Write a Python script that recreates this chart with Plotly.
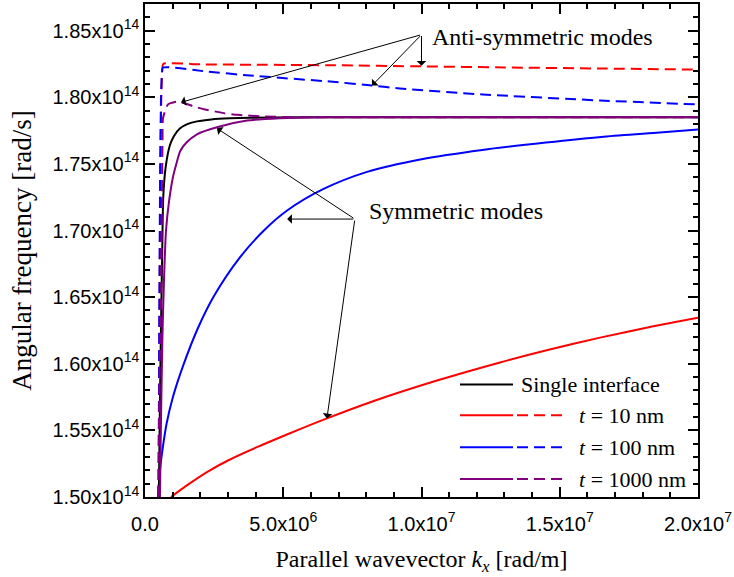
import numpy as np
import plotly.graph_objects as go

# ---- data (kx in 1e6 rad/m, omega in 1e14 rad/s) ----
KX_SCALE = 1e6
W_SCALE = 1e14

kx_single = [0.50, 0.54, 0.58, 0.62, 0.66, 0.75, 0.90, 1.05, 1.27, 1.55, 1.88, 2.4, 3.07, 4.5, 7, 10, 15, 20]
w_single = [1.50, 1.57, 1.63, 1.68, 1.725, 1.748, 1.764, 1.771, 1.7767, 1.7800, 1.7819, 1.7834, 1.7842, 1.7848, 1.785, 1.785, 1.785, 1.785]

kx_t10_sym = [0.94, 1.5, 2.24, 3.0, 4.05, 5.2, 6.58, 8.25, 10.56, 12.84, 14.6, 16.46, 18.3, 20.0]
w_t10_sym = [1.500, 1.5085, 1.5187, 1.5274, 1.5374, 1.5475, 1.5590, 1.5719, 1.5874, 1.6010, 1.6105, 1.6196, 1.6277, 1.6345]

kx_t10_anti = [0.50, 0.53, 0.56, 0.59, 0.62, 0.66, 2.0, 4.0, 6.9, 10, 13, 16.5, 20]
w_t10_anti = [1.50, 1.65, 1.75, 1.80, 1.818, 1.8250, 1.8247, 1.8244, 1.8240, 1.8232, 1.8224, 1.8216, 1.8208]

kx_t100_sym = [0.47, 0.55, 0.65, 0.78, 1.01, 1.37, 1.92, 2.5, 3.44, 4.3, 5.14, 6.44, 8.03, 10.0, 12.2, 14.5, 16.5, 18.5, 20.0]
w_t100_sym = [1.500, 1.522, 1.538, 1.555, 1.575, 1.598, 1.627, 1.651, 1.680, 1.700, 1.715, 1.731, 1.744, 1.7535, 1.7605, 1.7660, 1.7702, 1.7733, 1.7759]

kx_t100_anti = [0.49, 0.52, 0.55, 0.58, 0.61, 0.65, 2.24, 3.80, 6.69, 8.21, 9.22, 12.22, 16.46, 20.0]
w_t100_anti = [1.50, 1.65, 1.75, 1.80, 1.818, 1.8223, 1.8193, 1.8163, 1.8118, 1.8088, 1.8066, 1.8021, 1.7976, 1.7946]

kx_t1000_sym = [0.54, 0.58, 0.63, 0.69, 0.76, 0.87, 1.01, 1.16, 1.27, 1.5, 1.88, 2.6, 3.69, 4.88, 6.5, 10, 15, 20]
w_t1000_sym = [1.50, 1.56, 1.62, 1.665, 1.70, 1.722, 1.740, 1.752, 1.7595, 1.766, 1.7722, 1.7775, 1.7825, 1.7843, 1.785, 1.785, 1.785, 1.785]

kx_t1000_anti = [0.48, 0.53, 0.58, 0.615, 0.633, 0.65, 0.83, 1.19, 1.45, 1.88, 2.17, 2.53, 2.89, 3.36, 4.27, 5.6, 8, 12, 16, 20]
w_t1000_anti = [1.50, 1.60, 1.647, 1.722, 1.767, 1.7842, 1.7946, 1.7968, 1.7953, 1.7924, 1.7909, 1.7894, 1.7879, 1.7868, 1.7857, 1.785, 1.785, 1.785, 1.785, 1.785]

x_tickvals = [0, 5, 10, 15, 20]
x_ticktext = ["0.0", "5.0x10<sup>6</sup>", "1.0x10<sup>7</sup>", "1.5x10<sup>7</sup>", "2.0x10<sup>7</sup>"]
y_tickvals = [1.50, 1.55, 1.60, 1.65, 1.70, 1.75, 1.80, 1.85]
y_ticktext = [f"{v:.2f}x10<sup>14</sup>" for v in y_tickvals]
x_minor = list(range(0, 21))
y_minor = [round(1.50 + 0.01 * i, 2) for i in range(38)]

legend_labels = ["Single interface", "<i>t</i> = 10 nm", "<i>t</i> = 100 nm", "<i>t</i> = 1000 nm"]
legend_colors = ["black", "#FF0000", "#0000FF", "#800080"]

# arrows: (tip kx, tip w, tail kx, tail w)
anti_arrows = [(1.30, 1.7962, 10.0, 1.847), (8.21, 1.8088, 10.0, 1.847), (10.0, 1.8236, 10.0, 1.847)]
sym_arrows = [(2.60, 1.7767, 7.59, 1.7086), (5.14, 1.7086, 7.59, 1.7086), (6.58, 1.559, 7.59, 1.7086)]

DASH = "11px,6px"
LW = 2

fig = go.Figure()

def add(kx, w, color, dash=None, smooth=0.8):
    line = dict(color=color, width=LW, shape="spline", smoothing=smooth)
    if dash:
        line["dash"] = dash
    fig.add_trace(go.Scatter(
        x=np.array(kx) * KX_SCALE, y=np.array(w) * W_SCALE, mode="lines",
        line=line, showlegend=False, hoverinfo="skip"))

add(kx_t10_sym, w_t10_sym, "#FF0000")
add(kx_t100_sym, w_t100_sym, "#0000FF")
add(kx_t10_anti, w_t10_anti, "#FF0000", DASH, 0.5)
add(kx_t100_anti, w_t100_anti, "#0000FF", DASH, 0.5)
add(kx_single, w_single, "black", None, 0.6)
add(kx_t1000_sym, w_t1000_sym, "#800080", None, 0.6)
add(kx_t1000_anti, w_t1000_anti, "#800080", DASH, 0.5)

annotations = []
for tx, ty, ax_, ay_ in anti_arrows + sym_arrows:
    annotations.append(dict(
        x=tx * KX_SCALE, y=ty * W_SCALE, ax=ax_ * KX_SCALE, ay=ay_ * W_SCALE,
        xref="x", yref="y", axref="x", ayref="y", text="", showarrow=True,
        arrowhead=1, arrowsize=1.6, arrowwidth=1, arrowcolor="black"))

serif = "Liberation Serif"
annotations.append(dict(x=10.31 * KX_SCALE, y=1.8455 * W_SCALE, xref="x", yref="y",
                        text="Anti-symmetric modes", showarrow=False, xanchor="left", yanchor="middle",
                        font=dict(family=serif, size=24, color="black")))
annotations.append(dict(x=8.03 * KX_SCALE, y=1.7146 * W_SCALE, xref="x", yref="y",
                        text="Symmetric modes", showarrow=False, xanchor="left", yanchor="middle",
                        font=dict(family=serif, size=24, color="black")))

# custom legend (paper coordinates)
shapes = []
row_y = [0.2283, 0.1657, 0.1010, 0.0364]
for i, (lab, col) in enumerate(zip(legend_labels, legend_colors)):
    yy = row_y[i]
    shapes.append(dict(type="line", xref="paper", yref="paper", x0=0.5696, x1=0.6655, y0=yy, y1=yy,
                       line=dict(color=col, width=LW)))
    if i == 0:
        tx = 0.6763
    else:
        shapes.append(dict(type="line", xref="paper", yref="paper", x0=0.6727, x1=0.7631, y0=yy, y1=yy,
                           line=dict(color=col, width=LW, dash=DASH)))
        tx = 0.781
    annotations.append(dict(x=tx, y=yy, xref="paper", yref="paper", text=lab, showarrow=False,
                            xanchor="left", yanchor="middle",
                            font=dict(family=serif, size=22, color="black")))

axis_common = dict(showgrid=False, zeroline=False, showline=True, linecolor="black", linewidth=1.5,
                   mirror="allticks", ticks="inside", ticklen=10, tickwidth=1.5, tickcolor="black",
                   tickfont=dict(family="Liberation Sans", size=20, color="black"))

fig.update_layout(
    width=734, height=577,
    margin=dict(l=145, r=36, t=2, b=80),
    plot_bgcolor="white", paper_bgcolor="white",
    showlegend=False,
    xaxis=dict(range=[0, 20 * KX_SCALE], tickmode="array",
               tickvals=[v * KX_SCALE for v in x_tickvals], ticktext=x_ticktext,
               ticklabelstandoff=8,
               minor=dict(tickmode="array", tickvals=[v * KX_SCALE for v in x_minor], ticks="inside",
                          ticklen=5, tickwidth=1.5, tickcolor="black"),
               title=dict(text="Parallel wavevector <i>k</i><sub><i>x</i></sub> [rad/m]",
                          font=dict(family=serif, size=24, color="black"), standoff=16),
               **axis_common),
    yaxis=dict(range=[1.50 * W_SCALE, 1.87 * W_SCALE], tickmode="array",
               tickvals=[v * W_SCALE for v in y_tickvals], ticktext=y_ticktext,
               minor=dict(tickmode="array", tickvals=[v * W_SCALE for v in y_minor], ticks="inside",
                          ticklen=5, tickwidth=1.5, tickcolor="black"),
               title=dict(text="Angular frequency [rad/s]",
                          font=dict(family=serif, size=27, color="black"), standoff=13),
               **axis_common),
    annotations=annotations, shapes=shapes,
)

fig.write_html("out.html")
